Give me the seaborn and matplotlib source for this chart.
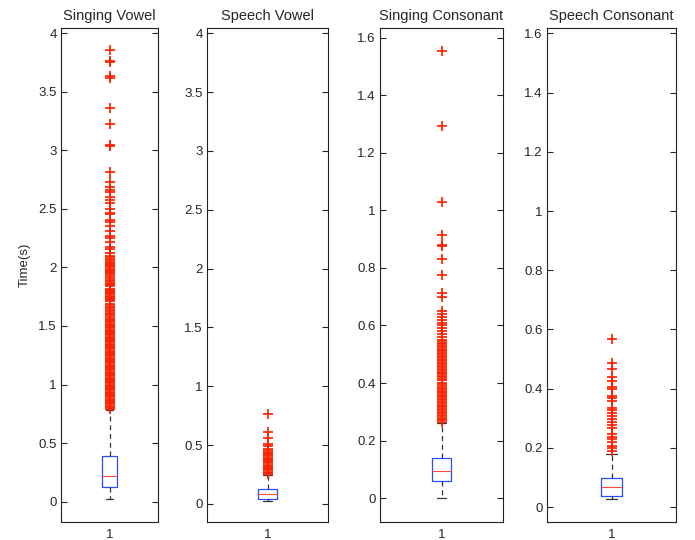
import matplotlib
matplotlib.use("Agg")
import matplotlib.pyplot as plt
import seaborn as sns
from matplotlib.ticker import FuncFormatter

# five-number summaries: low whisker, q1, median, q3, high whisker
singing_vowel_box = [0.023, 0.128, 0.22, 0.39, 0.78]
speech_vowel_box = [0.025, 0.04, 0.082, 0.127, 0.244]
singing_cons_box = [0.002, 0.06, 0.095, 0.14, 0.26]
speech_cons_box = [0.028, 0.039, 0.067, 0.098, 0.179]

# outliers (red +)
singing_vowel_out = [
    3.855, 3.767, 3.755, 3.633, 3.62, 3.359, 3.226, 3.049, 3.037, 2.812,
    2.727, 2.69, 2.664, 2.641, 2.605, 2.573, 2.55, 2.50, 2.465, 2.456,
    2.408, 2.388, 2.35, 2.314, 2.271, 2.251, 2.214, 2.174, 2.157, 2.123,
    2.10, 2.089,
    2.07, 2.06, 2.05, 2.04, 2.03, 2.02, 2.01, 2.00, 1.99, 1.98,
    1.97, 1.96, 1.95, 1.94, 1.93, 1.91, 1.89, 1.88, 1.87, 1.86,
    1.85, 1.84, 1.82, 1.81, 1.80, 1.79, 1.78, 1.77, 1.76, 1.75,
    1.74, 1.73, 1.72, 1.71, 1.69, 1.68, 1.66, 1.65, 1.64, 1.63,
    1.61, 1.60, 1.59, 1.58, 1.56, 1.55, 1.54, 1.53, 1.52, 1.51,
    1.50, 1.49, 1.48, 1.47, 1.46, 1.45, 1.44, 1.43, 1.42, 1.41,
    1.40, 1.39, 1.38, 1.37, 1.36, 1.35, 1.34, 1.33, 1.32, 1.31,
    1.30, 1.29, 1.28, 1.27, 1.26, 1.25, 1.24, 1.23, 1.22, 1.21,
    1.20, 1.19, 1.18, 1.17, 1.16, 1.15, 1.14, 1.13, 1.12, 1.11,
    1.10, 1.09, 1.08, 1.07, 1.06, 1.05, 1.04, 1.03, 1.02, 1.01,
    1.00, 0.99, 0.98, 0.97, 0.96, 0.95, 0.94, 0.93, 0.92, 0.91,
    0.90, 0.89, 0.88, 0.87, 0.86, 0.85, 0.84, 0.83, 0.82, 0.81,
    0.80, 0.79,
]
speech_vowel_out = [
    0.765, 0.609, 0.558, 0.507, 0.495, 0.465, 0.455, 0.445, 0.435, 0.425,
    0.415, 0.405, 0.395, 0.385, 0.375, 0.365, 0.355, 0.345, 0.335, 0.325,
    0.315, 0.305, 0.295, 0.285, 0.275, 0.265, 0.256,
]
singing_cons_out = [
    1.555, 1.293, 1.03, 0.914, 0.88, 0.878, 0.831, 0.775, 0.712, 0.70,
    0.65, 0.64, 0.63, 0.62, 0.61, 0.60, 0.59, 0.58, 0.57, 0.56,
    0.550, 0.545, 0.540, 0.535, 0.530, 0.525, 0.520, 0.515, 0.510, 0.505,
    0.500, 0.495, 0.490, 0.485, 0.480, 0.475, 0.470, 0.465, 0.460, 0.455,
    0.450, 0.445, 0.440, 0.435, 0.430, 0.425, 0.420, 0.415, 0.410, 0.400,
    0.395, 0.390, 0.383, 0.378, 0.373, 0.370, 0.364, 0.360, 0.355, 0.350,
    0.346, 0.340, 0.335, 0.330, 0.325, 0.320, 0.315, 0.310, 0.305, 0.300,
    0.295, 0.290, 0.285, 0.280, 0.275, 0.270, 0.265,
]
speech_cons_out = [
    0.567, 0.487, 0.466, 0.438, 0.426, 0.407, 0.399, 0.376, 0.368, 0.358,
    0.336, 0.328, 0.317, 0.308, 0.297, 0.286, 0.276, 0.266, 0.246, 0.238,
    0.229, 0.219, 0.208, 0.199, 0.19,
]

titles = ["Singing Vowel", "Speech Vowel", "Singing Consonant", "Speech Consonant"]
boxes = [singing_vowel_box, speech_vowel_box, singing_cons_box, speech_cons_box]
outliers = [singing_vowel_out, speech_vowel_out, singing_cons_out, speech_cons_out]
ylims = [(-0.174, 4.045), (-0.153, 4.045), (-0.083, 1.634), (-0.05, 1.618)]
yticks = [
    [0, 0.5, 1, 1.5, 2, 2.5, 3, 3.5, 4],
    [0, 0.5, 1, 1.5, 2, 2.5, 3, 3.5, 4],
    [0, 0.2, 0.4, 0.6, 0.8, 1, 1.2, 1.4, 1.6],
    [0, 0.2, 0.4, 0.6, 0.8, 1, 1.2, 1.4, 1.6],
]

# axes rectangles in figure fraction (left, bottom, width, height)
positions = [
    (61 / 695, 18 / 540, 97 / 695, 494 / 540),
    (207 / 695, 18 / 540, 121 / 695, 494 / 540),
    (380 / 695, 18 / 540, 123 / 695, 494 / 540),
    (547 / 695, 18 / 540, 129 / 695, 494 / 540),
]

FLIER_RED = "#ff2200"

sns.set_style("ticks")
plt.rcParams["font.family"] = ["Liberation Sans", "DejaVu Sans"]


def main():
    fig = plt.figure(figsize=(6.95, 5.4), dpi=100)
    for i in range(4):
        ax = fig.add_axes(positions[i])
        sns.boxplot(
            y=boxes[i], ax=ax, width=0.16, whis=(0, 100), showfliers=False,
            fill=False, color="#2b4dff", saturation=1, linewidth=0.9,
            medianprops=dict(color="#ff4a3d", linewidth=0.8),
            whiskerprops=dict(color="#333333", linestyle=(0, (4, 3))),
            capprops=dict(color="#333333"),
        )
        sns.stripplot(
            y=outliers[i], ax=ax, jitter=False, marker="+", color=FLIER_RED,
            size=6.5, linewidth=1.25, edgecolor=FLIER_RED,
        )
        ax.set_xlim(-0.5, 0.5)
        ax.set_ylim(*ylims[i])
        ax.set_yticks(yticks[i])
        ax.yaxis.set_major_formatter(FuncFormatter(lambda v, p: f"{v:g}"))
        ax.set_xticks([0])
        ax.set_xticklabels(["1"])
        ax.tick_params(axis="y", direction="in", left=True, right=True,
                       length=4, width=0.8, labelsize=9.5, pad=3)
        ax.tick_params(axis="x", length=0, labelsize=9.5, pad=5)
        for s in ax.spines.values():
            s.set_visible(True)
            s.set_color("#222222")
            s.set_linewidth(0.8)
        ax.set_title(titles[i], fontsize=10.5, pad=6)
        ax.set_xlabel("")
        if i == 0:
            ax.set_ylabel("Time(s)", fontsize=9.5)
            ax.yaxis.set_label_coords(-0.31, 0.52)
        else:
            ax.set_ylabel("")
    fig.savefig("out.png", dpi=100)


if __name__ == "__main__":
    main()
